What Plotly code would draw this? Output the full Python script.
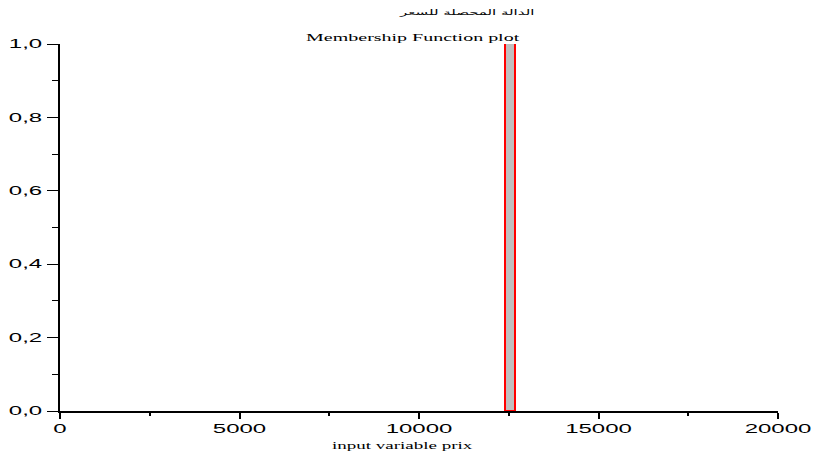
import plotly.graph_objects as go

# Membership function of the "prix" input variable: a single crisp block
prix_centers = [12550]
membership = [1.0]
block_width = 250

x_tickvals = [0, 5000, 10000, 15000, 20000]
x_ticktext = ["0", "5000", "10000", "15000", "20000"]
y_tickvals = [0.0, 0.2, 0.4, 0.6, 0.8, 1.0]
y_ticktext = ["0,0", "0,2", "0,4", "0,6", "0,8", "1,0"]

chart_title = "Membership Function plot"
chart_subtitle = "الدالة المحصلة للسعر"
x_title = "input variable prix"

# The chart is laid out at half width and widened 2x in the page
STRETCH = 2.0
PAGE_W, PAGE_H = 814, 454
FIG_W = PAGE_W / STRETCH

fig = go.Figure()
fig.add_trace(go.Bar(
    x=prix_centers,
    y=membership,
    width=[block_width],
    marker=dict(color="#c0c0c0", line=dict(color="#ff0000", width=1)),
    showlegend=False,
    hoverinfo="x+y",
))

tick_font = dict(family="Liberation Sans, Arial, sans-serif", size=12, color="black")

fig.update_layout(
    width=FIG_W,
    height=PAGE_H,
    margin=dict(l=30, r=18, t=44, b=43, pad=0),
    paper_bgcolor="white",
    plot_bgcolor="white",
    bargap=0,
    xaxis=dict(
        range=[0, 20000],
        automargin=False,
        tickmode="array",
        tickvals=x_tickvals,
        ticktext=x_ticktext,
        ticks="outside",
        ticklen=6,
        tickwidth=1,
        tickcolor="black",
        showline=True,
        linecolor="black",
        linewidth=1.5,
        showgrid=False,
        zeroline=False,
        tickfont=tick_font,
        minor=dict(tick0=0, dtick=2500, ticks="outside", ticklen=3,
                   tickwidth=1, tickcolor="black", showgrid=False),
    ),
    yaxis=dict(
        range=[0, 1.0],
        automargin=False,
        tickmode="array",
        tickvals=y_tickvals,
        ticktext=y_ticktext,
        ticks="outside",
        ticklen=5.5,
        tickwidth=1,
        tickcolor="black",
        showline=True,
        linecolor="black",
        linewidth=1,
        showgrid=False,
        zeroline=False,
        tickfont=tick_font,
        minor=dict(tick0=0, dtick=0.1, ticks="outside", ticklen=3,
                   tickwidth=1, tickcolor="black", showgrid=False),
    ),
    annotations=[
        dict(text=chart_title, xref="paper", yref="paper", x=0.4916, y=1.019,
             xanchor="center", yanchor="middle", showarrow=False,
             font=dict(family="Liberation Serif, Times New Roman, serif", size=10, color="black")),
        dict(text=chart_subtitle, xref="paper", yref="paper", x=0.5655, y=1.087,
             xanchor="center", yanchor="middle", showarrow=False,
             font=dict(family="DejaVu Sans, sans-serif", size=7.5, color="black")),
        dict(text=x_title, xref="paper", yref="paper", x=0.476, y=-0.095,
             xanchor="center", yanchor="middle", showarrow=False,
             font=dict(family="Liberation Serif, Times New Roman, serif", size=9.5, color="black")),
    ],
)

widen = """
document.body.style.margin = '0';
var gd = document.getElementById('{plot_id}');
gd.style.transformOrigin = '0 0';
gd.style.transform = 'scaleX(%s)';
""" % STRETCH

fig.write_html("out.html", post_script=widen, config={"displayModeBar": False})
